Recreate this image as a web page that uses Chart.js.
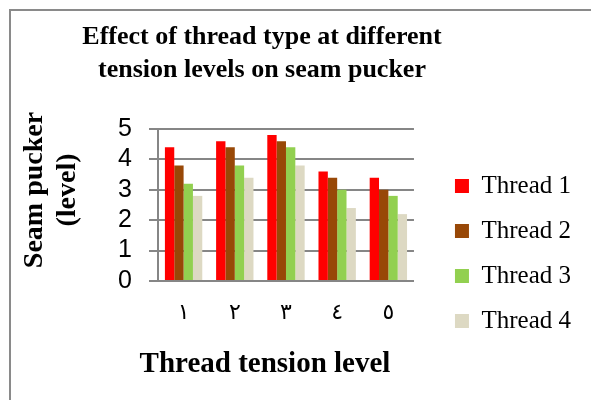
<!DOCTYPE html>
<html>
<head>
<meta charset="utf-8">
<script src="https://cdn.jsdelivr.net/npm/chart.js@4.4.1/dist/chart.umd.min.js"></script>
<style>
    html, body { margin: 0; padding: 0; background: #fff; overflow: hidden; }
    #wrap { position: relative; width: 591px; height: 400px; }
    #frame {
        position: absolute; left: 9px; top: 9px; right: -10px; bottom: -10px;
        border-left: 2px solid #8a8a8a; border-top: 2px solid #8a8a8a;
    }
    #puckerChart { position: absolute; left: 0; top: 0; }
</style>
</head>
<body>
<div id="wrap">
    <div id="frame"></div>
    <canvas id="puckerChart" width="591" height="400"></canvas>
</div>
<script>
// tension levels (Arabic-Indic numerals as in the source figure)
const tensionLevels = ['١', '٢', '٣', '٤', '٥'];

const threadNames = ['Thread 1', 'Thread 2', 'Thread 3', 'Thread 4'];
const threadColors = ['#ff0000', '#984807', '#92d050', '#ddd9c3'];

// seam pucker level per tension level
const thread1 = [4.4, 4.6, 4.8, 3.6, 3.4];
const thread2 = [3.8, 4.4, 4.6, 3.4, 3.0];
const thread3 = [3.2, 3.8, 4.4, 3.0, 2.8];
const thread4 = [2.8, 3.4, 3.8, 2.4, 2.2];

const yTicks = [0, 1, 2, 3, 4, 5];

const chartTitle = ['Effect of thread type at different', 'tension levels on seam pucker'];
const xTitle = 'Thread tension level';
const yTitle = ['Seam pucker', '(level)'];

const SERIF = "'Liberation Serif', 'Times New Roman', serif";
const SANS = "'Liberation Sans', Arial, sans-serif";
const GRID = '#868686';

document.addEventListener('DOMContentLoaded', () => {
    drawChart();
});

// Excel centres its titles and legend a little differently from Chart.js,
// so nudge those boxes once the layout is done
const nudgeBoxes = {
    id: 'nudgeBoxes',
    afterLayout(chart) {
        const area = chart.chartArea;
        const title = chart.titleBlock;
        title.left = 0;
        title.right = 524;
        title.width = 524;

        chart.boxes.forEach(box => {
            if (box !== title && box.options && box.options.text === xTitle) {
                box.left = 0;
                box.right = 530;
                box.width = 530;
            }
        });

        // legend clips to its own box, so move the whole box
        const legend = chart.legend;
        legend.left = area.right + 21;
        legend.right = chart.width;
        legend.width = legend.right - legend.left;
        legend.top = area.top + 24.5;
        legend.bottom = chart.height;
        legend.height = legend.bottom - legend.top;

        // y title sits a bit above the middle of the axis in the original
        const yScale = chart.scales.y;
        if (!yScale._titleNudged) {
            const drawTitle = yScale.drawTitle;
            yScale.drawTitle = function() {
                this.ctx.save();
                this.ctx.translate(0, -15);
                drawTitle.call(this);
                this.ctx.restore();
            };
            yScale._titleNudged = true;
        }
    }
};

function drawChart() {
    const ctx = document.getElementById('puckerChart').getContext('2d');
    const series = [thread1, thread2, thread3, thread4];

    new Chart(ctx, {
        type: 'bar',
        data: {
            labels: tensionLevels,
            datasets: series.map((values, i) => ({
                label: threadNames[i],
                data: values,
                backgroundColor: threadColors[i],
                borderWidth: 0,
                categoryPercentage: 0.73,
                barPercentage: 1.0
            }))
        },
        options: {
            responsive: false,
            animation: false,
            layout: { padding: { left: 0, top: 0, bottom: 0, right: 31 } },
            plugins: {
                title: {
                    display: true,
                    text: chartTitle,
                    color: '#000',
                    font: { family: SERIF, size: 26, weight: 'bold', lineHeight: 33 / 26 },
                    padding: { top: 20.5, bottom: 42.5 }
                },
                subtitle: {
                    display: true,
                    position: 'bottom',
                    text: xTitle,
                    color: '#000',
                    font: { family: SERIF, size: 29, weight: 'bold', lineHeight: 1.2 },
                    padding: { top: 2.2, bottom: 17.6 }
                },
                legend: {
                    position: 'right',
                    align: 'start',
                    fullSize: true,
                    maxWidth: 220,
                    labels: {
                        color: '#000',
                        boxWidth: 14,
                        boxHeight: 14,
                        padding: 20,
                        font: { family: SERIF, size: 25 }
                    }
                },
                tooltip: { enabled: false }
            },
            scales: {
                x: {
                    grid: { display: false, drawTicks: false },
                    border: { display: true, color: GRID, width: 2 },
                    ticks: {
                        color: '#000',
                        padding: 19,
                        font: { family: SERIF + ", 'DejaVu Sans'", size: 22 }
                    }
                },
                y: {
                    min: yTicks[0],
                    max: yTicks[yTicks.length - 1],
                    afterBuildTicks: scale => {
                        scale.ticks = yTicks.map(v => ({ value: v }));
                    },
                    afterFit: scale => {
                        scale.width = 158;
                    },
                    grid: { color: GRID, lineWidth: 2, tickLength: 9, drawTicks: true },
                    border: { display: true, color: GRID, width: 2 },
                    ticks: {
                        color: '#000',
                        padding: 17,
                        autoSkip: false,
                        font: { family: SANS, size: 25, lineHeight: 1 }
                    },
                    title: {
                        display: true,
                        text: yTitle,
                        color: '#000',
                        font: { family: SERIF, size: 28, weight: 'bold', lineHeight: 33 / 28 },
                        padding: { top: 18.5, bottom: 33.5 }
                    }
                }
            }
        },
        plugins: [nudgeBoxes]
    });
}
</script>
</body>
</html>
